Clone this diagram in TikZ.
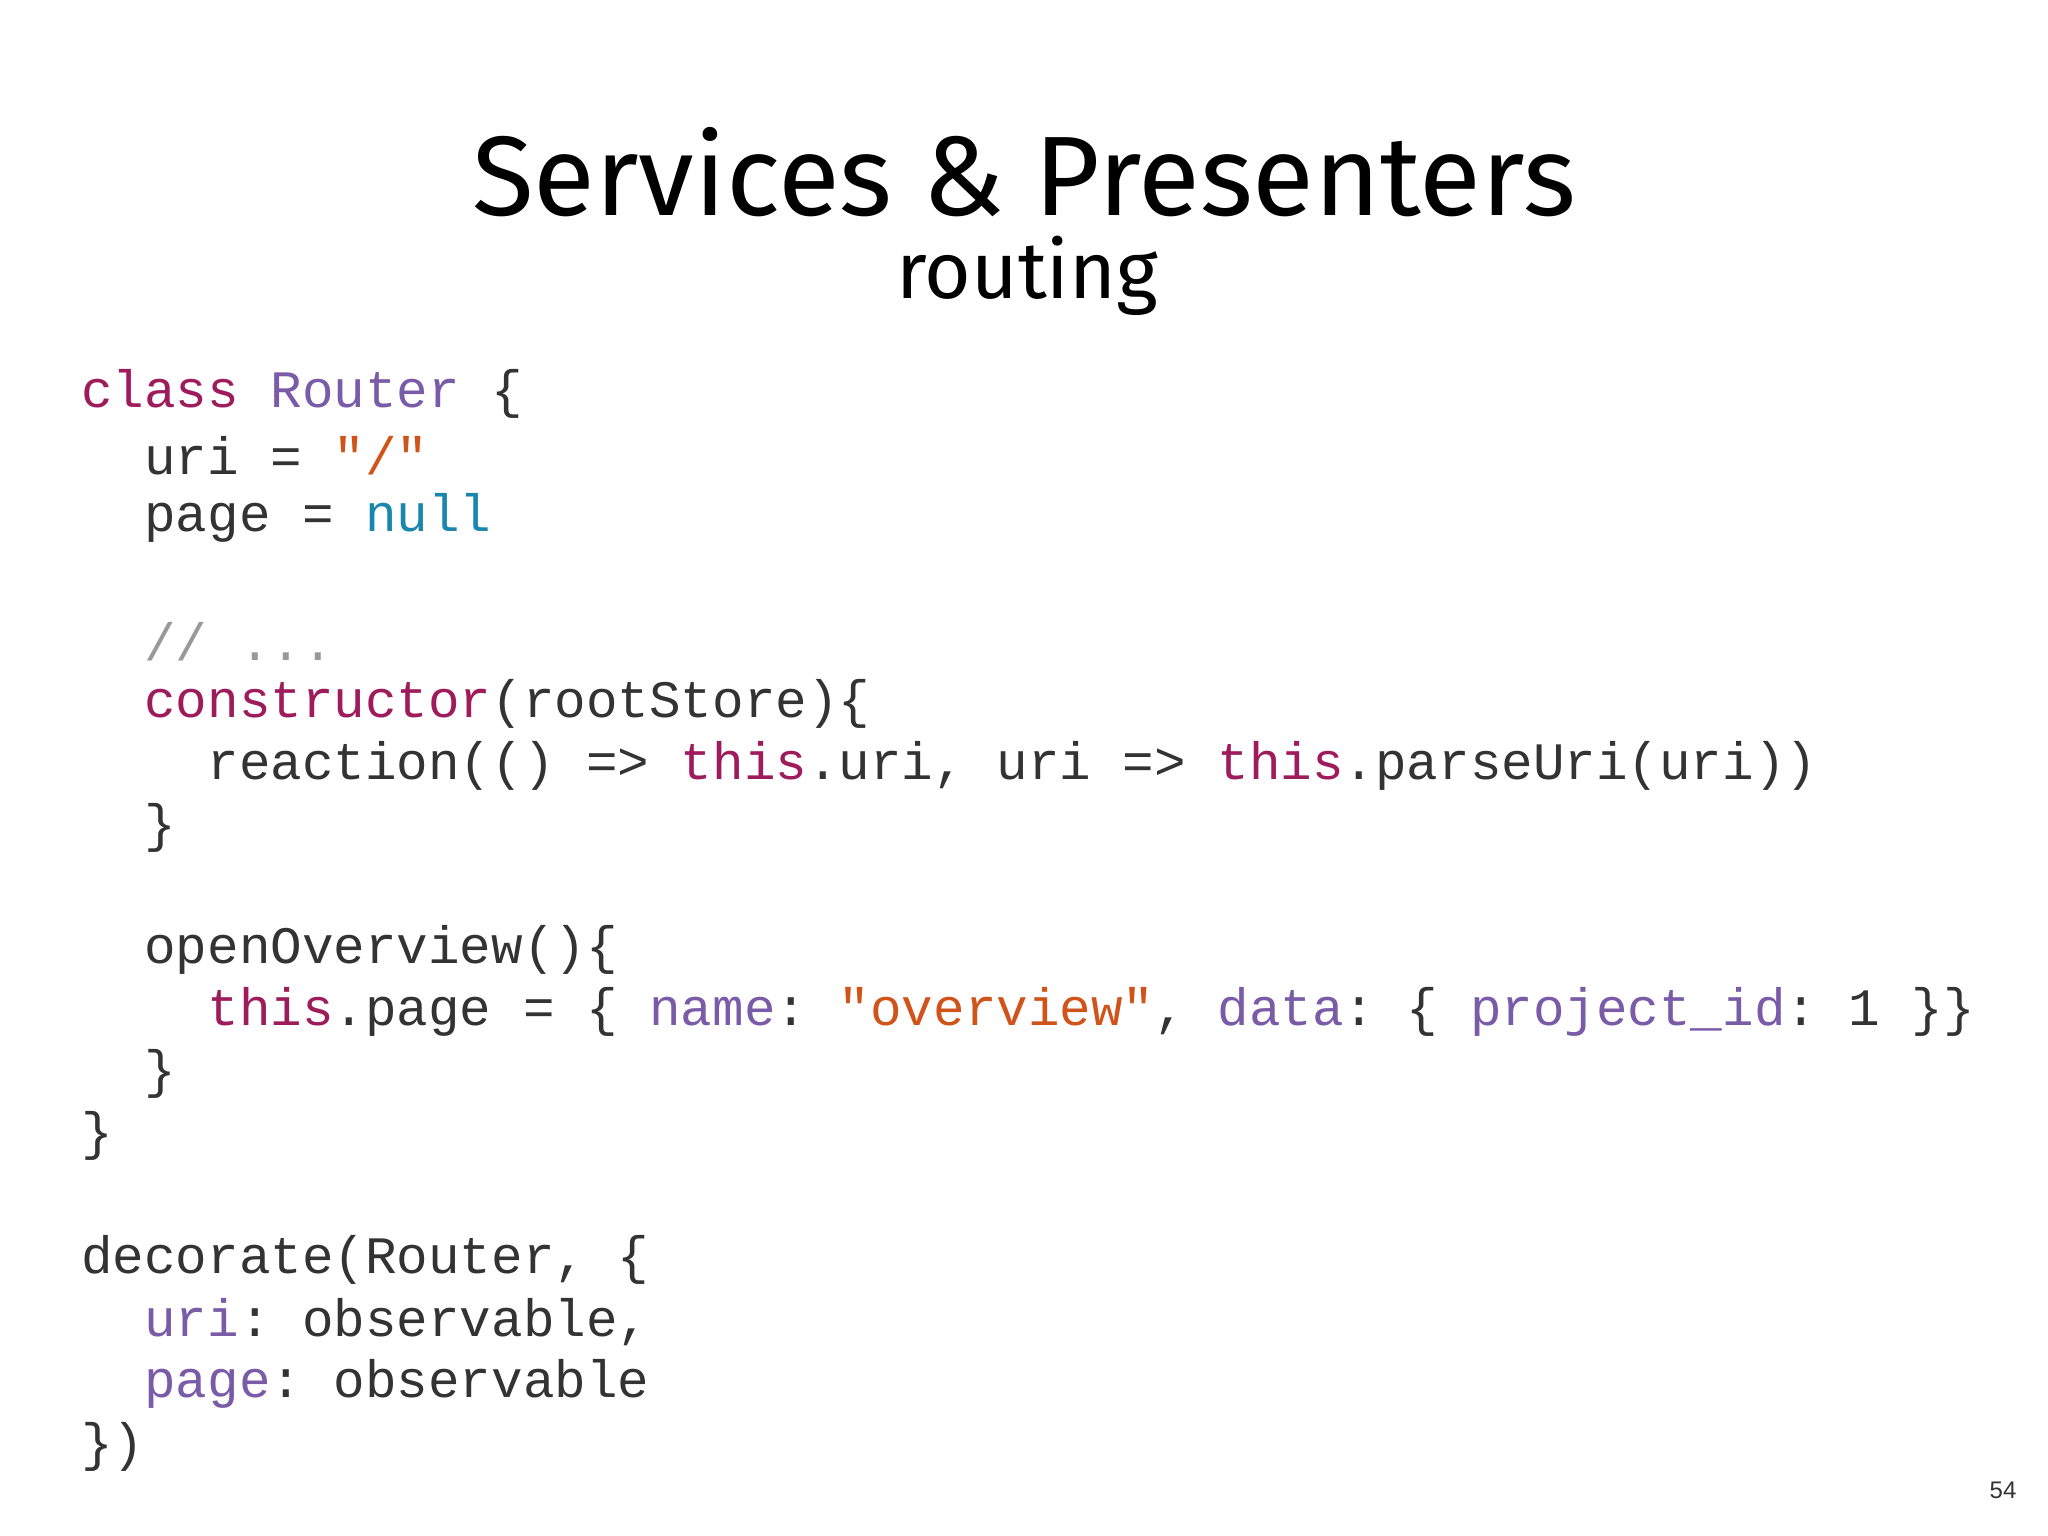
\documentclass[tikz,border=0pt]{standalone}
\usepackage{fontspec}
\setmonofont{Liberation Mono}
\newfontfamily\titlefont{Fira Sans}
\newfontfamily\numfont{Liberation Sans}
\definecolor{kw}{HTML}{9E1C5C}
\definecolor{pu}{HTML}{7A5BA8}
\definecolor{st}{HTML}{D0541A}
\definecolor{nl}{HTML}{1A86AE}
\definecolor{cm}{HTML}{999999}
\definecolor{tx}{HTML}{333333}
\newcommand{\Kw}[1]{\textcolor{kw}{#1}}
\newcommand{\Pu}[1]{\textcolor{pu}{#1}}
\newcommand{\Sx}[1]{\textcolor{st}{#1}}
\begin{document}
\begin{tikzpicture}[x=1pt,y=-1pt,
  code/.style={anchor=west,inner sep=0pt,text=tx,font=\ttfamily\fontsize{52.6}{60}\selectfont}]
\useasboundingbox[fill=white] (0,0) rectangle (2048,1536);
\node[font=\titlefont\fontsize{113}{120}\selectfont] (title) at (1024,172) {Services \& Presenters};
\node[font=\titlefont\fontsize{80}{86}\selectfont] (sub) at (1027,276) {routing};
\def\cx{81}
\node[code] (l1) at (\cx,394) {\Kw{class} \Pu{Router} \{};
\node[code] (l2) at (\cx,456) {\ \ uri = \Sx{"/"}};
\node[code] (l3) at (\cx,518) {\ \ page = \textcolor{nl}{null}};
\node[code] (l4) at (\cx,642) {\ \ \textcolor{cm}{// ...}};
\node[code] (l5) at (\cx,704) {\ \ \Kw{constructor}(rootStore)\{};
\node[code] (l6) at (\cx,766) {\ \ \ \ reaction(() => \Kw{this}.uri, uri => \Kw{this}.parseUri(uri))};
\node[code] (l7) at (\cx,828) {\ \ \}};
\node[code] (l8) at (\cx,950) {\ \ openOverview()\{};
\node[code] (l9) at (\cx,1012) {\ \ \ \ \Kw{this}.page = \{ \Pu{name}: \Sx{"overview"}, \Pu{data}: \{ \Pu{project\_id}: 1 \}\}};
\node[code] (l10) at (\cx,1074) {\ \ \}};
\node[code] (l11) at (\cx,1136) {\}};
\node[code] (l12) at (\cx,1260) {decorate(Router, \{};
\node[code] (l13) at (\cx,1322) {\ \ \Pu{uri}: observable,};
\node[code] (l14) at (\cx,1384) {\ \ \Pu{page}: observable};
\node[code] (l15) at (\cx,1447) {\})};
\node[font=\numfont\fontsize{24}{28}\selectfont,text=tx] (num) at (2003,1490) {54};
\end{tikzpicture}
\end{document}
